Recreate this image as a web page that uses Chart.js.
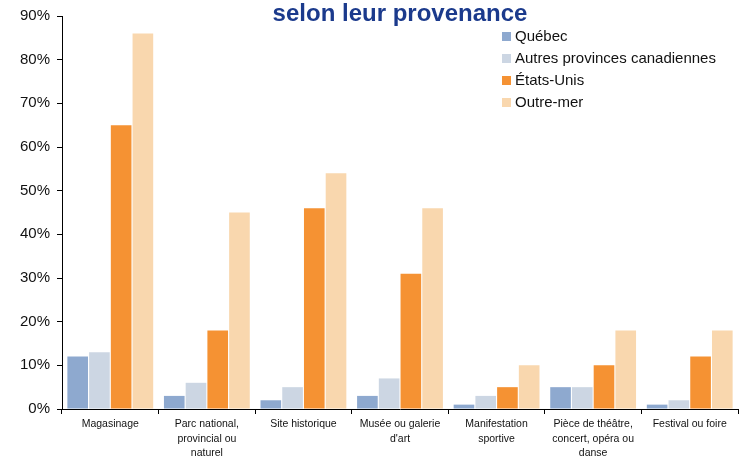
<!DOCTYPE html>
<html><head><meta charset="utf-8">
<script src="https://cdn.jsdelivr.net/npm/chart.js@4"></script>
<style>html,body{margin:0;padding:0;background:#fff}#w{width:741px;height:458px}</style>
</head><body><div id="w"><canvas id="c"></canvas></div>
<script>
const categories = [
  ['Magasinage'],
  ['Parc national,', 'provincial ou', 'naturel'],
  ['Site historique'],
  ['Musée ou galerie', "d'art"],
  ['Manifestation', 'sportive'],
  ['Pièce de théâtre,', 'concert, opéra ou', 'danse'],
  ['Festival ou foire']
];
const seriesNames = ['Québec', 'Autres provinces canadiennes', 'États-Unis', 'Outre-mer'];
const quebec = [12, 3, 2, 3, 1, 5, 1];
const autres = [13, 6, 5, 7, 3, 5, 2];
const etatsUnis = [65, 18, 46, 31, 5, 10, 12];
const outreMer = [86, 45, 54, 46, 10, 18, 18];
const title = 'selon leur provenance';
const colors = ['#8EA9CF', '#CCD6E3', '#F59233', '#F9D7AE'];

const F = '"Liberation Sans", Arial, sans-serif';

const overlay = {
  id: 'overlay',
  afterDraw(chart) {
    const ctx = chart.ctx, a = chart.chartArea;
    ctx.save();
    ctx.fillStyle = '#1B3A8C';
    ctx.font = 'bold 24px ' + F;
    ctx.textAlign = 'center';
    ctx.textBaseline = 'alphabetic';
    ctx.fillText(title, (a.left + a.right) / 2, 21);
    ctx.font = '15px ' + F;
    ctx.textAlign = 'left';
    ctx.textBaseline = 'middle';
    chart.data.datasets.forEach((d, i) => {
      const y = 37 + i * 22;
      ctx.fillStyle = d.backgroundColor;
      ctx.fillRect(502, y - 5, 9, 9);
      ctx.fillStyle = '#111';
      ctx.fillText(d.label, 515, y);
    });
    ctx.restore();
  }
};

const vals = [quebec, autres, etatsUnis, outreMer];
new Chart(document.getElementById('c'), {
  type: 'bar',
  data: {
    labels: categories,
    datasets: seriesNames.map((n, i) => ({
      label: n, data: vals[i], backgroundColor: colors[i],
      categoryPercentage: 0.9, barPercentage: 0.95
    }))
  },
  options: {
    responsive: true, maintainAspectRatio: false, animation: false,
    layout: { padding: { top: 15, right: 3, left: 0, bottom: 0 } },
    plugins: { legend: { display: false }, title: { display: false }, tooltip: { enabled: false } },
    scales: {
      x: {
        grid: { offset: true, drawOnChartArea: false, drawTicks: true, tickLength: 5, color: '#000' },
        border: { color: '#000', width: 1 },
        ticks: { color: '#111', font: { family: F, size: 10.5, lineHeight: 1.38 }, padding: 3, maxRotation: 0, autoSkip: false },
        afterFit(s) { s.height = 49; }
      },
      y: {
        min: 0, max: 90,
        grid: { drawOnChartArea: false, drawTicks: true, tickLength: 5, color: '#000' },
        border: { color: '#000', width: 1 },
        ticks: { stepSize: 10, color: '#111', font: { family: F, size: 15 }, padding: 7, callback: v => v + '%' },
        afterFit(s) { s.width = 62; }
      }
    }
  },
  plugins: [overlay]
});
</script></body></html>
